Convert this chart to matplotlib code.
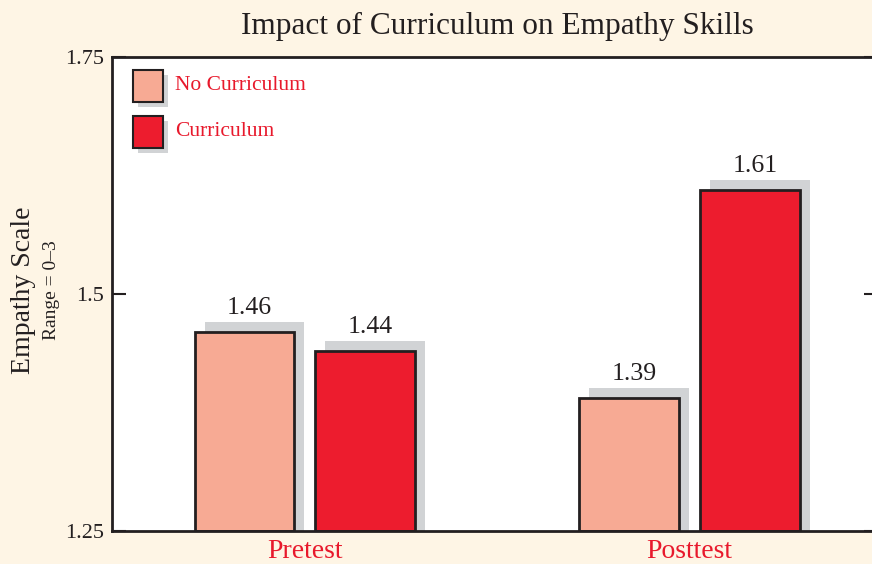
import matplotlib.pyplot as plt
from matplotlib.patches import Rectangle

# data
groups = ["Pretest", "Posttest"]
series = ["No Curriculum", "Curriculum"]
no_curriculum = [1.46, 1.39]
curriculum = [1.44, 1.61]
colors = ["#F7AA94", "#ED1C2E"]

bg = "#FEF5E5"
dark = "#231F20"
shadow = "#D1D3D5"
red_txt = "#E8192C"

plt.rcParams['font.family'] = ['Liberation Serif', 'DejaVu Serif']

fig = plt.figure(figsize=(8.72, 5.64), dpi=100, facecolor=bg)
ax = fig.add_axes([112 / 872, 1 - 531 / 564, (878 - 112) / 872, (531 - 57) / 564])
ax.set_facecolor("white")

ymin, ymax = 1.25, 1.75
ax.set_ylim(ymin, ymax)
ax.set_xlim(-0.501, 1.49)

width = 0.259
offset = 0.157
dx = 10 / 385
dy = 10 / 948

x = list(range(len(groups)))
for vals, col, sgn in [(no_curriculum, colors[0], -1), (curriculum, colors[1], 1)]:
    for xi, v in zip(x, vals):
        c = xi + sgn * offset
        # drop shadow
        ax.bar(c + dx, v - ymin + dy, width, bottom=ymin, color=shadow,
               linewidth=0, zorder=1)
        ax.bar(c, v - ymin, width, bottom=ymin, color=col, edgecolor=dark,
               linewidth=2, zorder=2)
        ax.text(c + dx / 2, v + dy + 0.003, f"{v:.2f}", ha="center", va="bottom",
                fontsize=18.5, color=dark, zorder=3)

ax.set_xticks(x)
ax.set_xticklabels(groups, fontsize=20, color=red_txt)
ax.tick_params(axis="x", length=0, pad=6)

ax.set_yticks([1.25, 1.5, 1.75])
ax.set_yticklabels(["1.25", "1.5", "1.75"], fontsize=16, color=dark)
ax.tick_params(axis="y", direction="in", length=10, width=1.5, color=dark,
               pad=6, right=True)

for s in ["left", "top", "bottom"]:
    ax.spines[s].set_linewidth(2)
    ax.spines[s].set_color(dark)
ax.spines["right"].set_visible(False)

# legend drawn by hand with shadows
for i, (lab, col) in enumerate(zip(series, colors)):
    y0 = 1 - (102 + i * 46 - 57) / 474
    x0 = (133 - 112) / 766
    w = 30 / 766
    h = 32 / 474
    ax.add_patch(Rectangle((x0 + 5 / 766, y0 - 5 / 474), w, h, transform=ax.transAxes,
                           facecolor=shadow, linewidth=0, zorder=4))
    ax.add_patch(Rectangle((x0, y0), w, h, transform=ax.transAxes,
                           facecolor=col, edgecolor=dark, linewidth=1.5, zorder=5))
    ax.text(x0 + w + 12 / 766, y0 + h / 2, lab, transform=ax.transAxes,
            fontsize=15.5, color=red_txt, va="center", ha="left", zorder=5)

fig.text(497 / 872, 1 - 26 / 564, "Impact of Curriculum on Empathy Skills",
         fontsize=22.5, color=dark, ha="center", va="center")
fig.text(23 / 872, 1 - 290 / 564, "Empathy Scale", rotation=90, fontsize=20,
         color=dark, ha="center", va="center")
fig.text(51 / 872, 1 - 290 / 564, "Range = 0\u20133", rotation=90, fontsize=14,
         color=dark, ha="center", va="center")

fig.savefig("out.png", dpi=100, facecolor=bg)
